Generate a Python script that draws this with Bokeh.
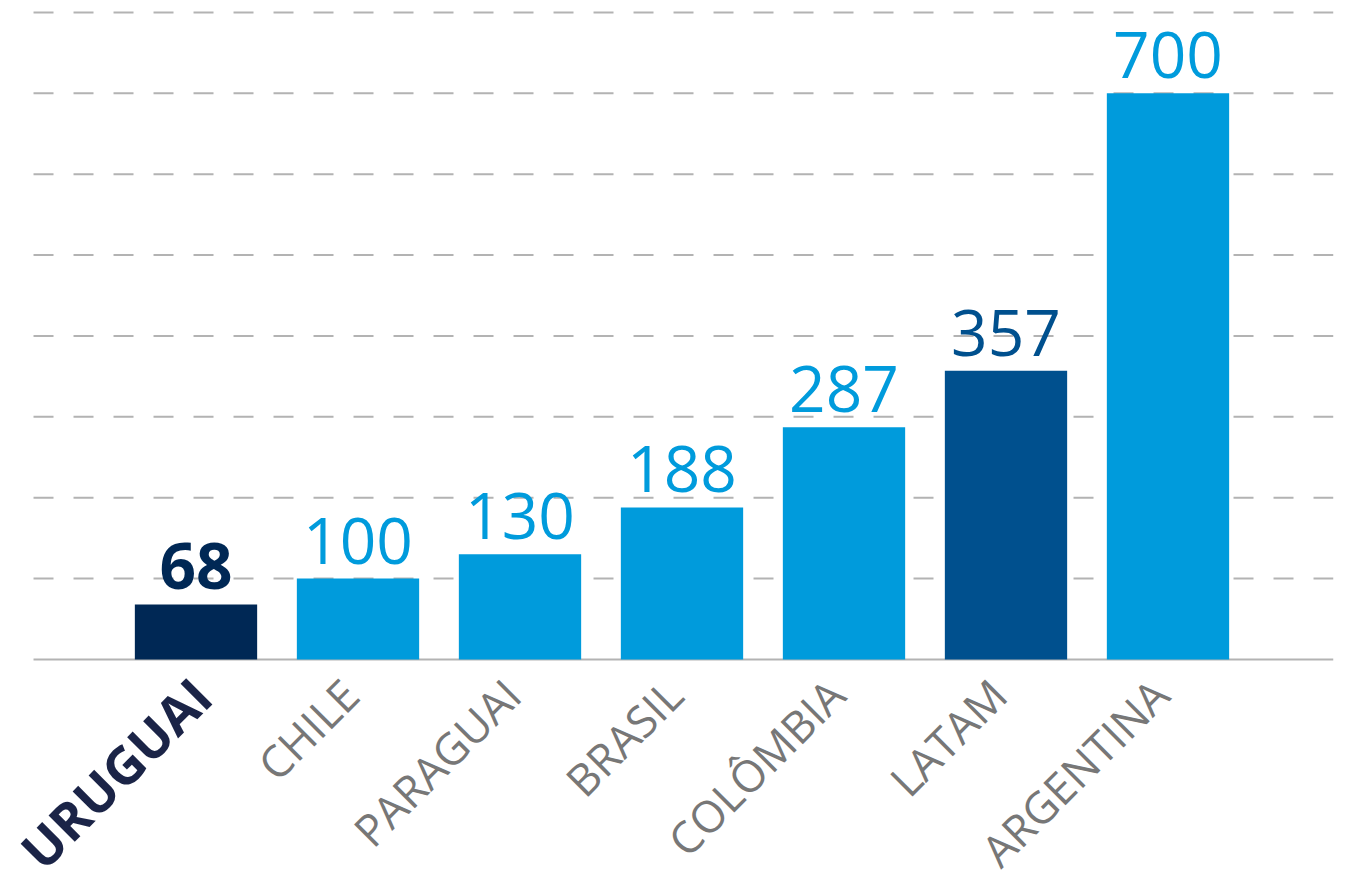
import math
from bokeh.plotting import figure
from bokeh.models import Range1d, ColumnDataSource
from bokeh.core.properties import value
from bokeh.embed import file_html
from bokeh.resources import INLINE

# ---- data ----
categories = ["URUGUAI", "CHILE", "PARAGUAI", "BRASIL", "COLÔMBIA", "LATAM", "ARGENTINA"]
values = [68, 100, 130, 188, 287, 357, 700]
grid_ticks = [100, 200, 300, 400, 500, 600, 700, 800]

# ---- styles ----
NAVY = "#002855"
LIGHT = "#009bdc"
MID = "#00508e"
bar_colors = [NAVY, LIGHT, LIGHT, LIGHT, LIGHT, MID, LIGHT]
GRID = "#b3b3b3"

W, H = 1346, 888
p = figure(width=W, height=H, output_backend="svg", toolbar_location=None,
           x_range=Range1d(-1.2068, 7.1019), y_range=Range1d(-283.2, 814.8),
           min_border=0, min_border_left=0, min_border_right=0,
           min_border_top=0, min_border_bottom=0)
p.axis.visible = False
p.grid.visible = False
p.outline_line_color = None
p.background_fill_color = "white"
p.border_fill_color = "white"

xs = list(range(len(categories)))
x_left, x_right = -1.003, 7.02

# dashed grid lines
p.segment(x0=[x_left] * len(grid_ticks), x1=[x_right] * len(grid_ticks),
          y0=grid_ticks, y1=grid_ticks, line_color=GRID, line_width=2,
          line_dash="20 20")
# baseline
p.segment(x0=[x_left], x1=[x_right], y0=[0], y1=[0], line_color=GRID, line_width=2)

src = ColumnDataSource(dict(x=xs, top=values, color=bar_colors,
                            label=[str(v) for v in values], cat=categories))
p.vbar(x="x", top="top", bottom=0, width=0.755, fill_color="color",
       line_color=None, source=src)

# value labels
for i, v in enumerate(values):
    p.text(x=[xs[i]], y=[v], text=[str(v)], text_color=bar_colors[i],
           text_align="center", text_baseline="alphabetic", y_offset=-38,
           text_font=value("Open Sans"), text_font_size="64px",
           text_font_style="bold" if i == 0 else "normal")

# category labels
for i, c in enumerate(categories):
    first = (i == 0)
    p.text(x=[xs[i]], y=[0], text=[c], angle=math.pi / 4,
           text_align="right", text_baseline="top",
           x_offset=-20 if first else -29, y_offset=2 if first else 6,
           text_color="#1b2447" if first else "#777777",
           text_font=value("Open Sans"),
           text_font_size="52px" if first else "44px",
           text_font_style="bold" if first else "normal")

open("out.html", "w").write(file_html(p, INLINE))
